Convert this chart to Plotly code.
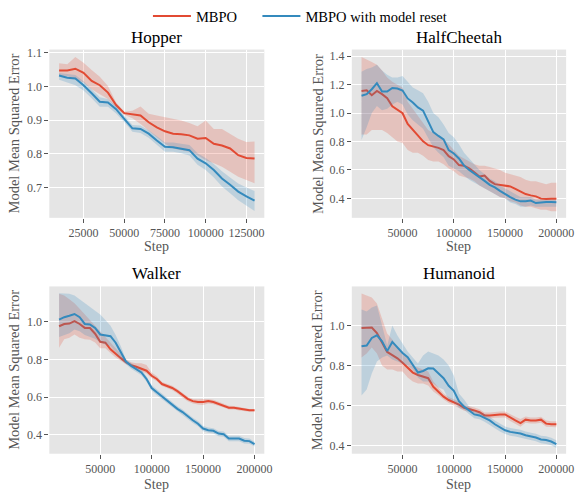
import plotly.graph_objects as go

RED = "#E24A33"
BLUE = "#348ABD"
RED_FILL = "rgba(226,74,51,0.22)"
BLUE_FILL = "rgba(52,138,189,0.22)"
FONT = "Liberation Serif"

legend_names = ["MBPO", "MBPO with model reset"]

# ---------------- Hopper ----------------
hopper_steps = list(range(10000, 135000, 5000))
hopper_mbpo = [1.048, 1.048, 1.053, 1.041, 1.017, 1.004, 0.982, 0.945, 0.921, 0.917, 0.914, 0.894, 0.879,
               0.867, 0.860, 0.858, 0.855, 0.845, 0.847, 0.830, 0.825, 0.816, 0.796, 0.788, 0.786]
hopper_mbpo_hi = [1.069, 1.066, 1.088, 1.071, 1.049, 1.029, 1.002, 0.953, 0.925, 0.928, 0.941, 0.919, 0.914,
                  0.909, 0.906, 0.899, 0.892, 0.882, 0.899, 0.874, 0.874, 0.860, 0.845, 0.835, 0.837]
hopper_mbpo_lo = [1.033, 1.031, 1.022, 1.012, 0.992, 0.977, 0.963, 0.938, 0.916, 0.906, 0.889, 0.870, 0.850,
                  0.830, 0.816, 0.811, 0.806, 0.796, 0.781, 0.772, 0.762, 0.747, 0.732, 0.723, 0.713]
hopper_reset = [1.033, 1.026, 1.024, 1.004, 0.980, 0.955, 0.953, 0.933, 0.904, 0.876, 0.874, 0.860, 0.840,
                0.821, 0.820, 0.816, 0.811, 0.786, 0.772, 0.752, 0.727, 0.708, 0.688, 0.674, 0.661]
hopper_reset_hi = [1.040, 1.036, 1.034, 1.016, 0.993, 0.968, 0.963, 0.943, 0.913, 0.886, 0.884, 0.870, 0.852,
                   0.834, 0.834, 0.830, 0.826, 0.802, 0.788, 0.770, 0.748, 0.730, 0.712, 0.700, 0.690]
hopper_reset_lo = [1.020, 1.013, 1.004, 0.988, 0.965, 0.940, 0.940, 0.920, 0.895, 0.866, 0.862, 0.848, 0.826,
                   0.806, 0.806, 0.802, 0.795, 0.768, 0.752, 0.730, 0.703, 0.683, 0.662, 0.645, 0.630]

# ---------------- HalfCheetah ----------------
hc_steps = list(range(10000, 205000, 5000))
hc_mbpo = [1.156, 1.161, 1.126, 1.156, 1.133, 1.105, 1.047, 1.024, 0.999, 0.924, 0.885, 0.839, 0.801, 0.774,
           0.767, 0.755, 0.739, 0.697, 0.674, 0.634, 0.630, 0.611, 0.583, 0.553, 0.560, 0.523, 0.500, 0.495,
           0.493, 0.484, 0.467, 0.449, 0.430, 0.421, 0.414, 0.398, 0.395, 0.398, 0.398]
hc_mbpo_hi = [1.395, 1.38, 1.36, 1.34, 1.30, 1.25, 1.22, 1.20, 1.18, 1.08, 1.03, 0.98, 0.93, 0.88, 0.86, 0.84,
              0.82, 0.78, 0.74, 0.70, 0.68, 0.66, 0.64, 0.63, 0.63, 0.62, 0.61, 0.60, 0.58, 0.57, 0.56, 0.55,
              0.53, 0.52, 0.52, 0.51, 0.50, 0.51, 0.51]
hc_mbpo_lo = [0.85, 0.85, 0.88, 0.88, 0.88, 0.86, 0.83, 0.80, 0.79, 0.74, 0.72, 0.72, 0.70, 0.67, 0.66, 0.66,
              0.64, 0.61, 0.59, 0.56, 0.55, 0.54, 0.52, 0.49, 0.47, 0.45, 0.43, 0.41, 0.40, 0.38, 0.37, 0.35,
              0.34, 0.34, 0.33, 0.32, 0.32, 0.31, 0.31]
hc_reset = [1.122, 1.133, 1.168, 1.210, 1.152, 1.152, 1.177, 1.173, 1.159, 1.103, 1.075, 1.040, 1.017, 0.941,
            0.866, 0.839, 0.815, 0.739, 0.716, 0.681, 0.630, 0.600, 0.576, 0.546, 0.523, 0.495, 0.477, 0.453,
            0.430, 0.409, 0.391, 0.379, 0.379, 0.384, 0.367, 0.372, 0.374, 0.374, 0.372]
hc_reset_hi = [1.29, 1.31, 1.32, 1.34, 1.30, 1.27, 1.25, 1.25, 1.26, 1.22, 1.18, 1.16, 1.14, 1.08, 1.00, 0.97,
               0.92, 0.86, 0.83, 0.78, 0.72, 0.68, 0.64, 0.60, 0.57, 0.54, 0.52, 0.49, 0.47, 0.45, 0.43, 0.41,
               0.41, 0.41, 0.39, 0.39, 0.39, 0.39, 0.39]
hc_reset_lo = [0.81, 0.90, 1.00, 1.05, 1.02, 1.03, 1.06, 1.08, 1.06, 0.99, 0.95, 0.92, 0.89, 0.82, 0.76, 0.72,
               0.69, 0.63, 0.61, 0.59, 0.56, 0.53, 0.51, 0.49, 0.47, 0.45, 0.43, 0.41, 0.40, 0.37, 0.36, 0.34,
               0.34, 0.35, 0.34, 0.34, 0.34, 0.34, 0.34]

# ---------------- Walker ----------------
walker_steps = list(range(10000, 205000, 5000))
walker_mbpo = [0.977, 0.989, 0.991, 1.004, 0.989, 0.968, 0.967, 0.937, 0.894, 0.889, 0.854, 0.828, 0.807,
               0.785, 0.770, 0.761, 0.752, 0.740, 0.713, 0.696, 0.669, 0.660, 0.648, 0.631, 0.608, 0.590,
               0.578, 0.573, 0.573, 0.578, 0.573, 0.564, 0.555, 0.543, 0.543, 0.537, 0.532, 0.529, 0.529]
walker_mbpo_hi = [1.15, 1.14, 1.12, 1.10, 1.07, 1.04, 1.01, 0.98, 0.95, 0.92, 0.89, 0.86, 0.83, 0.80, 0.785,
                  0.78, 0.78, 0.77, 0.73, 0.71, 0.68, 0.672, 0.66, 0.643, 0.62, 0.602, 0.59, 0.588, 0.59,
                  0.59, 0.585, 0.575, 0.566, 0.553, 0.552, 0.546, 0.540, 0.536, 0.535]
walker_mbpo_lo = [0.863, 0.907, 0.916, 0.933, 0.915, 0.907, 0.905, 0.89, 0.86, 0.86, 0.835, 0.81, 0.793,
                  0.775, 0.76, 0.748, 0.738, 0.725, 0.70, 0.684, 0.658, 0.648, 0.636, 0.619, 0.596, 0.578,
                  0.566, 0.56, 0.558, 0.565, 0.562, 0.553, 0.544, 0.533, 0.534, 0.528, 0.524, 0.522, 0.523]
walker_reset = [1.012, 1.025, 1.033, 1.042, 1.025, 0.989, 0.986, 0.968, 0.933, 0.930, 0.924, 0.889, 0.836,
                0.789, 0.766, 0.748, 0.731, 0.696, 0.648, 0.625, 0.602, 0.581, 0.560, 0.537, 0.520, 0.497,
                0.476, 0.458, 0.432, 0.423, 0.420, 0.405, 0.402, 0.379, 0.379, 0.379, 0.367, 0.365, 0.349]
walker_reset_hi = [1.153, 1.153, 1.15, 1.14, 1.12, 1.10, 1.08, 1.06, 1.04, 1.01, 0.98, 0.93, 0.87, 0.80,
                   0.78, 0.763, 0.746, 0.711, 0.663, 0.640, 0.616, 0.595, 0.574, 0.551, 0.534, 0.511, 0.490,
                   0.472, 0.446, 0.437, 0.434, 0.419, 0.416, 0.393, 0.393, 0.393, 0.381, 0.379, 0.362]
walker_reset_lo = [0.92, 0.93, 0.94, 0.96, 0.95, 0.93, 0.92, 0.91, 0.89, 0.88, 0.87, 0.84, 0.80, 0.775,
                   0.751, 0.733, 0.716, 0.681, 0.633, 0.610, 0.588, 0.567, 0.546, 0.523, 0.506, 0.483, 0.462,
                   0.444, 0.418, 0.409, 0.406, 0.391, 0.388, 0.365, 0.365, 0.365, 0.353, 0.351, 0.336]

# ---------------- Humanoid ----------------
hum_steps = list(range(10000, 205000, 5000))
hum_mbpo = [0.987, 0.990, 0.990, 0.962, 0.913, 0.868, 0.852, 0.836, 0.814, 0.789, 0.765, 0.753, 0.743, 0.737,
            0.694, 0.671, 0.645, 0.628, 0.617, 0.605, 0.589, 0.584, 0.576, 0.567, 0.551, 0.551, 0.554, 0.556,
            0.556, 0.539, 0.526, 0.513, 0.530, 0.526, 0.526, 0.530, 0.510, 0.507, 0.507]
hum_mbpo_hi = [1.16, 1.15, 1.14, 1.11, 1.03, 0.96, 0.93, 0.89, 0.86, 0.84, 0.80, 0.79, 0.78, 0.77, 0.72,
               0.69, 0.66, 0.643, 0.632, 0.62, 0.604, 0.599, 0.591, 0.582, 0.566, 0.566, 0.569, 0.571, 0.571,
               0.556, 0.545, 0.533, 0.546, 0.541, 0.541, 0.545, 0.526, 0.522, 0.522]
hum_mbpo_lo = [0.84, 0.86, 0.89, 0.86, 0.80, 0.78, 0.78, 0.77, 0.77, 0.74, 0.72, 0.71, 0.71, 0.70, 0.67,
               0.652, 0.63, 0.613, 0.602, 0.59, 0.574, 0.569, 0.561, 0.552, 0.536, 0.536, 0.539, 0.541, 0.541,
               0.523, 0.508, 0.494, 0.514, 0.511, 0.511, 0.515, 0.494, 0.492, 0.492]
hum_reset = [0.896, 0.900, 0.938, 0.951, 0.921, 0.872, 0.918, 0.888, 0.863, 0.842, 0.806, 0.765, 0.773, 0.786,
             0.785, 0.760, 0.737, 0.699, 0.674, 0.622, 0.595, 0.576, 0.556, 0.551, 0.539, 0.526, 0.507, 0.490,
             0.477, 0.469, 0.465, 0.461, 0.452, 0.447, 0.441, 0.431, 0.428, 0.421, 0.408]
hum_reset_hi = [1.08, 1.07, 1.09, 1.10, 1.00, 0.90, 1.00, 0.95, 0.91, 0.87, 0.84, 0.81, 0.85, 0.87, 0.86,
                0.85, 0.83, 0.80, 0.75, 0.66, 0.63, 0.595, 0.575, 0.57, 0.558, 0.545, 0.526, 0.509, 0.496,
                0.488, 0.484, 0.48, 0.471, 0.466, 0.46, 0.45, 0.447, 0.44, 0.427]
hum_reset_lo = [0.65, 0.68, 0.76, 0.82, 0.84, 0.85, 0.83, 0.82, 0.81, 0.80, 0.78, 0.74, 0.72, 0.72, 0.71,
                0.69, 0.68, 0.63, 0.62, 0.59, 0.58, 0.557, 0.537, 0.532, 0.52, 0.507, 0.488, 0.471, 0.458,
                0.45, 0.446, 0.442, 0.433, 0.428, 0.422, 0.412, 0.409, 0.402, 0.389]

hopper_xticks = [25000, 50000, 75000, 100000, 125000]
long_xticks = [50000, 100000, 150000, 200000]

panels = [
    dict(title="Hopper", steps=hopper_steps,
         series=[(hopper_mbpo, hopper_mbpo_lo, hopper_mbpo_hi), (hopper_reset, hopper_reset_lo, hopper_reset_hi)],
         xticks=hopper_xticks, yticks=[0.7, 0.8, 0.9, 1.0, 1.1],
         xrange=[4000, 136000], yrange=[0.61, 1.11]),
    dict(title="HalfCheetah", steps=hc_steps,
         series=[(hc_mbpo, hc_mbpo_lo, hc_mbpo_hi), (hc_reset, hc_reset_lo, hc_reset_hi)],
         xticks=long_xticks, yticks=[0.4, 0.6, 0.8, 1.0, 1.2, 1.4],
         xrange=[500, 209500], yrange=[0.263, 1.447]),
    dict(title="Walker", steps=walker_steps,
         series=[(walker_mbpo, walker_mbpo_lo, walker_mbpo_hi), (walker_reset, walker_reset_lo, walker_reset_hi)],
         xticks=long_xticks, yticks=[0.4, 0.6, 0.8, 1.0],
         xrange=[500, 209500], yrange=[0.298, 1.189]),
    dict(title="Humanoid", steps=hum_steps,
         series=[(hum_mbpo, hum_mbpo_lo, hum_mbpo_hi), (hum_reset, hum_reset_lo, hum_reset_hi)],
         xticks=long_xticks, yticks=[0.4, 0.6, 0.8, 1.0],
         xrange=[500, 209500], yrange=[0.36, 1.195]),
]

W, H = 582, 493
xdoms = [[50 / W, 268 / W], [356.7 / W, 574 / W]]
ydoms = [[1 - 215 / H, 1 - 45 / H], [1 - 453.3 / H, 1 - 284.3 / H]]

fig = go.Figure()
annotations = []
layout_axes = {}
colors = [(RED, RED_FILL), (BLUE, BLUE_FILL)]
legend_refs = ["legend", "legend2"]

for i, p in enumerate(panels):
    row, col = divmod(i, 2)
    n = i + 1
    xa = "x" if n == 1 else f"x{n}"
    ya = "y" if n == 1 else f"y{n}"
    for j, (mean, lo, hi) in enumerate(p["series"]):
        line_c, fill_c = colors[j]
        fig.add_trace(go.Scatter(
            x=p["steps"] + p["steps"][::-1], y=hi + lo[::-1],
            fill="toself", fillcolor=fill_c, line=dict(width=0),
            mode="lines", showlegend=False, hoverinfo="skip", xaxis=xa, yaxis=ya))
        fig.add_trace(go.Scatter(
            x=p["steps"], y=mean, mode="lines", line=dict(color=line_c, width=2),
            name=legend_names[j], showlegend=(i == 0), legend=legend_refs[j], xaxis=xa, yaxis=ya))
    axis_common = dict(showgrid=True, gridcolor="white", gridwidth=1.2, zeroline=False,
                       showline=False, ticks="outside", ticklen=4, tickwidth=1, tickcolor="#555555",
                       tickfont=dict(family=FONT, size=12, color="#555555"))
    layout_axes["xaxis" if n == 1 else f"xaxis{n}"] = dict(
        domain=xdoms[col], anchor=ya, range=p["xrange"], tickvals=p["xticks"],
        ticktext=[str(v) for v in p["xticks"]], **axis_common)
    layout_axes["yaxis" if n == 1 else f"yaxis{n}"] = dict(
        domain=ydoms[row], anchor=xa, range=p["yrange"], tickvals=p["yticks"],
        ticktext=[f"{v:.1f}" for v in p["yticks"]], **axis_common)
    cx = (xdoms[col][0] + xdoms[col][1]) / 2
    title_y = [1 - 33 / H, 1 - 271.5 / H][row]
    annotations.append(dict(text=p["title"], x=cx, y=title_y, xref="paper", yref="paper",
                            showarrow=False, xanchor="center", yanchor="middle",
                            font=dict(family=FONT, size=17, color="black")))
    step_y = [1 - 244 / H, 1 - 484 / H][row]
    annotations.append(dict(text="Step", x=cx, y=step_y, xref="paper", yref="paper",
                            showarrow=False, xanchor="center", yanchor="middle",
                            font=dict(family=FONT, size=14, color="#555555")))
    lab_x = [14 / W, 321.7 / W][col]
    cy = (ydoms[row][0] + ydoms[row][1]) / 2
    annotations.append(dict(text="Model Mean Squared Error", x=lab_x, y=cy, xref="paper", yref="paper",
                            showarrow=False, xanchor="center", yanchor="middle", textangle=-90,
                            font=dict(family=FONT, size=14.5, color="#555555")))

legend_common = dict(orientation="h", yanchor="middle", xanchor="left", y=1 - 11 / H,
                     bgcolor="rgba(0,0,0,0)", itemwidth=38,
                     font=dict(family=FONT, size=14.5, color="black"))

fig.update_layout(
    width=W, height=H, margin=dict(l=0, r=0, t=0, b=0),
    paper_bgcolor="white", plot_bgcolor="#E5E5E5",
    font=dict(family=FONT),
    showlegend=True,
    legend=dict(x=150 / W, **legend_common),
    legend2=dict(x=261 / W, **legend_common),
    annotations=annotations,
    **layout_axes,
)

fig.write_html("out.html", config={"displayModeBar": False},
               post_script="document.body.style.margin='0';document.body.style.padding='0';")
